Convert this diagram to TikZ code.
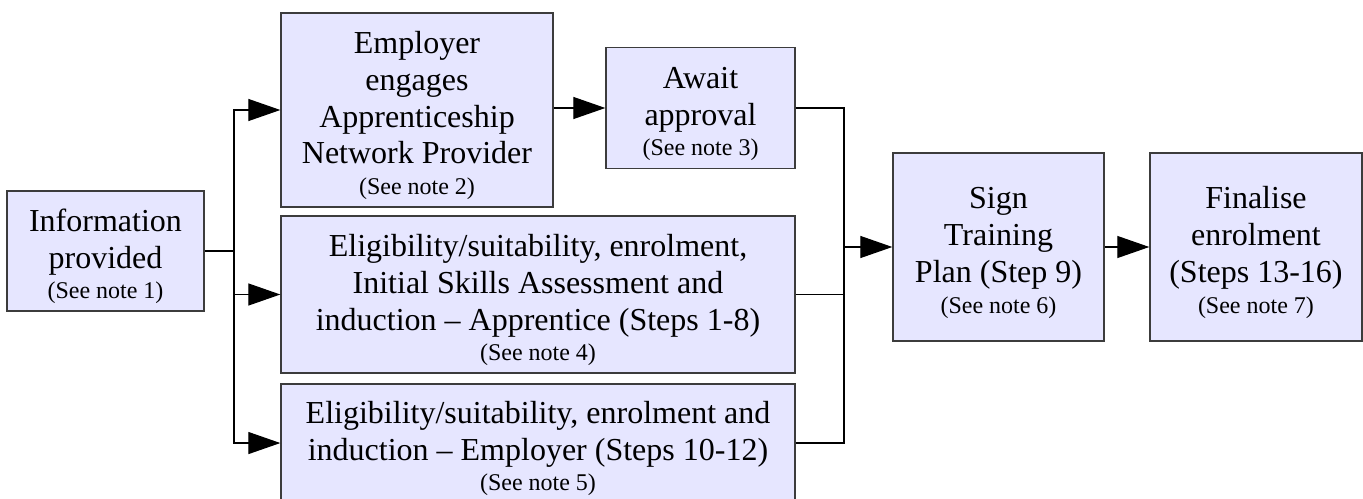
\documentclass[tikz,border=0pt]{standalone}
\usepackage{fontspec}
\setmainfont{Liberation Serif}
\usetikzlibrary{arrows.meta}

\definecolor{stagefill}{RGB}{230,230,255}
\definecolor{stageline}{RGB}{60,60,60}
\newcommand{\topstrut}{\rule{0pt}{25pt}}
\newcommand{\seenote}[1]{\\[-4.5pt]{\fontsize{18}{20}\selectfont (See note #1)}}

\begin{document}
\begin{tikzpicture}
 [x=0.75pt, y=-0.75pt,
  stage node/.style={rectangle, draw=stageline, fill=stagefill, line width=1pt, inner sep=0pt, align=center, font={\fontsize{24}{27.6}\selectfont}},
  flow/.style={line width=0.9pt, draw=black},
  arrow/.style={flow, -{Triangle[length=24pt, width=16.5pt]}}]

\useasboundingbox (0,0) rectangle (1363,499);

\node[stage node, minimum width=147.75pt, minimum height=90pt] (1) at (105.5,251) {\topstrut Information\\provided\seenote{1}};
 \node[stage node, minimum width=204pt, minimum height=145.5pt] (2) at (417,110) {\topstrut Employer\\engages\\Apprenticeship\\Network Provider\seenote{2}};
 \node[stage node, minimum width=141.75pt, minimum height=90.75pt] (3) at (700.5,108) {\topstrut Await\\approval\seenote{3}};
\node[stage node, minimum width=385.5pt, minimum height=117.75pt] (4) at (538,294.5) {\topstrut Eligibility/suitability, enrolment,\\Initial Skills Assessment and\\induction -- Apprentice (Steps 1-8)\seenote{4}};
\node[stage node, minimum width=385.5pt, minimum height=88.5pt] (5) [node distance=111.4pt, below of=4] {\topstrut Eligibility/suitability, enrolment and\\induction -- Employer (Steps 10-12)\seenote{5}};

  \node[stage node, minimum width=158.25pt, minimum height=141pt] (6) at (998.5,247) {\topstrut Sign\\Training\\Plan (Step 9)\seenote{6}};
  \node[stage node, minimum width=159pt, minimum height=141pt] (7) [node distance=193.1pt, right of=6] {\topstrut Finalise\\enrolment\\(Steps 13-16)\seenote{7}};

\coordinate (split) at (234,251);
\coordinate (join) at (844,247);

\draw[flow] (1) -- (split);
\draw[arrow] (split) |- (2);
\draw[arrow] (split) |- (4);
\draw[arrow] (split) |- (5);
\draw[arrow] (2.east |- 3) -- (3);

\draw[flow] (3) -| (join);
\draw[flow] (4) -| (join);
\draw[flow] (5) -| (join);
\draw[arrow] (join) -- (6);
\draw[arrow] (6) -- (7);

\end{tikzpicture}
\end{document}
